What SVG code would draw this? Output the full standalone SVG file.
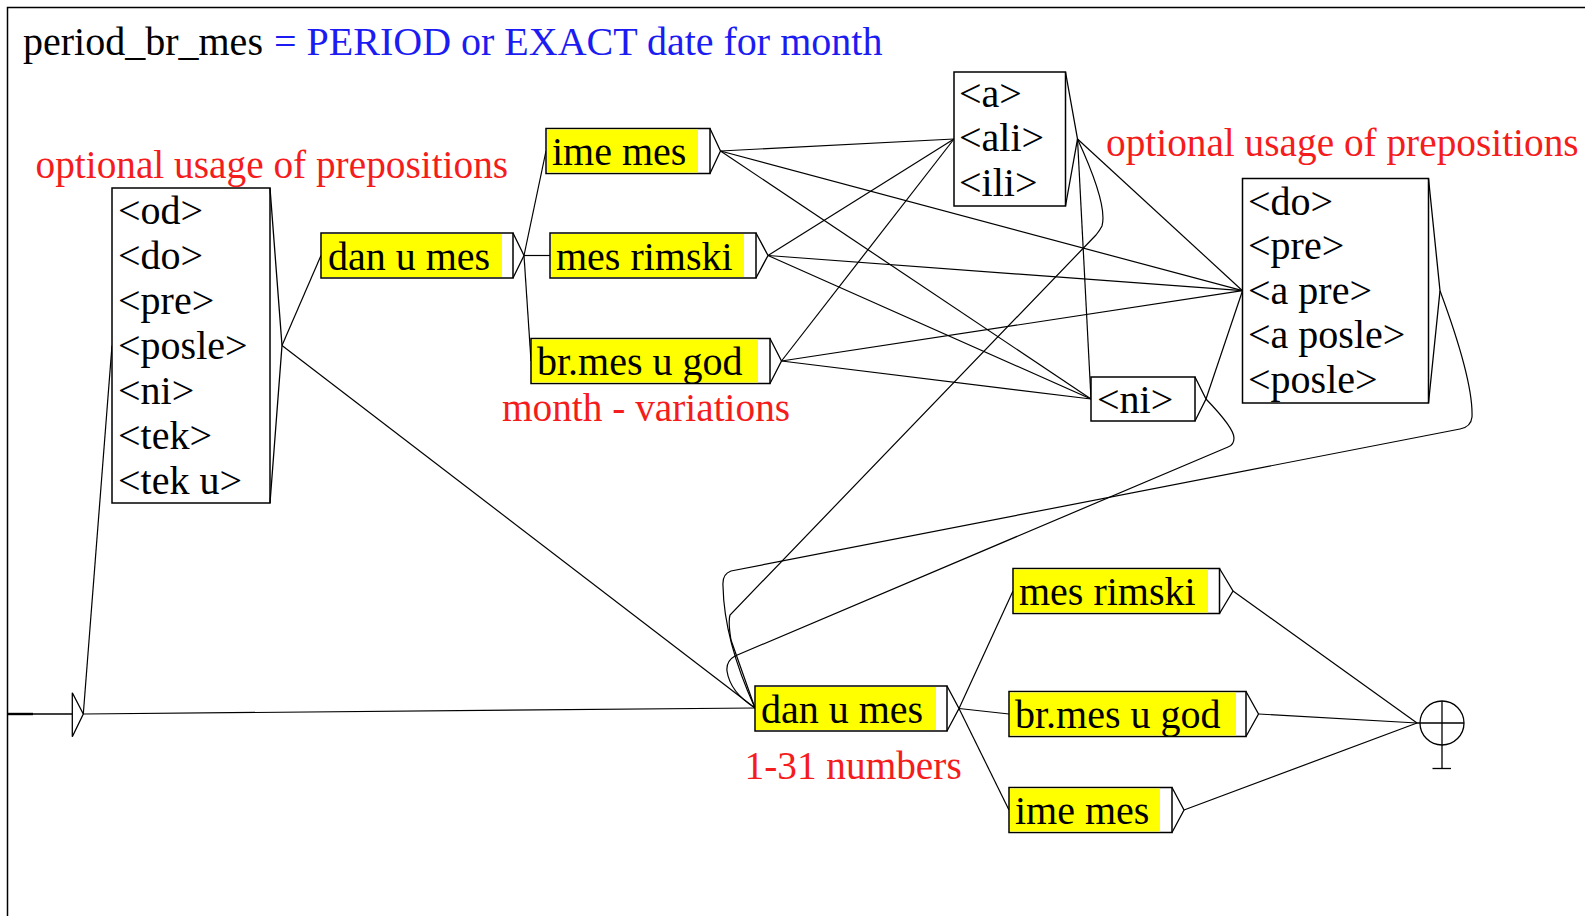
<svg xmlns="http://www.w3.org/2000/svg" width="1585" height="916" viewBox="0 0 1585 916">
<style>
text{font-family:"Liberation Serif","Times New Roman",serif;font-size:40px;fill:#000}
.c{fill:#f41c1c;font-size:39.3px}
.b{fill:#1c1cf2}
.box{fill:#fff;stroke:#000;stroke-width:1.5}
.y{fill:#ffff00}
.tri{fill:none;stroke:#000;stroke-width:1.3}
#edges path{fill:none;stroke:#000;stroke-width:1.2}
</style>
<rect width="1585" height="916" fill="#fff"/>
<rect x="7.5" y="7.5" width="1620" height="1000" fill="none" stroke="#000" stroke-width="1.5"/>
<g id="comments">
<text x="23" y="55">period_br_mes</text>
<text class="b" x="274" y="55">= PERIOD or EXACT date for month</text>
<text class="c" x="35.5" y="177.5">optional usage of prepositions</text>
<text class="c" x="1106" y="155.5">optional usage of prepositions</text>
<text class="c" x="502" y="420.5">month - variations</text>
<text class="c" x="744.5" y="778.5">1-31 numbers</text>
</g>
<g id="edges">
<path d="M83.3,714 L112,345.5"/>
<path d="M83.3,714 L755,708"/>
<path d="M282,345.5 L321,255.5"/>
<path d="M282,345.5 L755,708"/>
<path d="M524,255.5 L546,151"/>
<path d="M524,255.5 L550,255.5"/>
<path d="M524,255.5 L531,361"/>
<path d="M720.5,151 L954,139"/>
<path d="M720.5,151 L1242.5,290.7"/>
<path d="M720.5,151 L1091,399"/>
<path d="M768,255.5 L954,139"/>
<path d="M768,255.5 L1242.5,290.7"/>
<path d="M768,255.5 L1091,399"/>
<path d="M781.5,361 L954,139"/>
<path d="M781.5,361 L1242.5,290.7"/>
<path d="M781.5,361 L1091,399"/>
<path d="M1077.5,139 L1242.5,290.7"/>
<path d="M1077.5,139 L1091,399"/>
<path d="M1077.5,139 Q1108,205 1102,226 Q1100,230 1096,235 L730,615 Q728,622 731,640 L755,708"/>
<path d="M1206,399 L1242.5,290.7"/>
<path d="M1206,399 Q1234,428 1234,438 Q1234,445 1228,447 L735,656 Q726,661 727,671 Q730,692 755,708"/>
<path d="M1440,290.7 C1462,350 1473,392 1472,417 Q1471,427 1460,429 L731,571 Q722,574 723,586 Q724,640 755,708"/>
<path d="M959,708.5 L1013,591"/>
<path d="M959,708.5 L1009,714"/>
<path d="M959,708.5 L1009,810"/>
<path d="M1233,591 L1417,723"/>
<path d="M1258.5,714 L1417,723"/>
<path d="M1184,810 L1417,723"/>
</g>
<g id="initial">
<line x1="8" y1="714" x2="72.3" y2="714" stroke="#000" stroke-width="1.3"/>
<line x1="8" y1="714" x2="33" y2="714" stroke="#000" stroke-width="2.4"/>
<polygon class="tri" points="72.3,692.7 83.3,714 72.3,736.7"/>
</g>
<g id="final" fill="none" stroke="#000" stroke-width="1.3">
<circle cx="1442" cy="723" r="22"/>
<line x1="1417" y1="723" x2="1464" y2="723"/>
<line x1="1442" y1="701" x2="1442" y2="768.5"/>
<line x1="1432.5" y1="768.5" x2="1451" y2="768.5"/>
</g>
<g id="prep-left">
<rect class="box" x="112" y="188" width="158" height="315"/>
<polyline class="tri" points="270,188 282,345.5 270,503"/>
<text x="118" y="223.5">&lt;od&gt;</text>
<text x="118" y="268.5">&lt;do&gt;</text>
<text x="118" y="313.5">&lt;pre&gt;</text>
<text x="118" y="358.5">&lt;posle&gt;</text>
<text x="118" y="403.5">&lt;ni&gt;</text>
<text x="118" y="448.5">&lt;tek&gt;</text>
<text x="118" y="493.5">&lt;tek u&gt;</text>
</g>
<g id="dan-u-mes-top">
<rect class="box" x="321" y="233" width="192" height="45"/>
<rect class="y" x="322" y="234" width="180" height="43"/>
<polyline class="tri" points="513,233 524,255.5 513,278"/>
<text x="328" y="269.5">dan u mes</text>
</g>
<g id="ime-mes-top">
<rect class="box" x="546" y="128.5" width="164" height="45"/>
<rect class="y" x="547" y="129.5" width="151" height="43"/>
<polyline class="tri" points="710,128.5 720.5,151 710,173.5"/>
<text x="552" y="164.5">ime mes</text>
</g>
<g id="mes-rimski-top">
<rect class="box" x="550" y="233" width="206" height="45"/>
<rect class="y" x="551" y="234" width="193" height="43"/>
<polyline class="tri" points="756,233 768,255.5 756,278"/>
<text x="556" y="269.5">mes rimski</text>
</g>
<g id="br-mes-top">
<rect class="box" x="531" y="338.5" width="239" height="45"/>
<rect class="y" x="532" y="339.5" width="226" height="43"/>
<polyline class="tri" points="770,338.5 781.5,361 770,383.5"/>
<text x="537" y="374.5">br.mes u god</text>
</g>
<g id="conj">
<rect class="box" x="954" y="72" width="111.5" height="134"/>
<polyline class="tri" points="1065.5,72 1077.5,139 1065.5,206"/>
<text x="959" y="106.5">&lt;a&gt;</text>
<text x="959" y="151">&lt;ali&gt;</text>
<text x="959" y="195.5">&lt;ili&gt;</text>
</g>
<g id="ni">
<rect class="box" x="1091" y="377" width="104" height="44"/>
<polyline class="tri" points="1195,377 1206,399 1195,421"/>
<text x="1097" y="412.5">&lt;ni&gt;</text>
</g>
<g id="prep-right">
<rect class="box" x="1242.5" y="178.5" width="186" height="224.5"/>
<polyline class="tri" points="1428.5,178.5 1440,290.7 1428.5,403"/>
<text x="1248" y="214.5">&lt;do&gt;</text>
<text x="1248" y="259.1">&lt;pre&gt;</text>
<text x="1248" y="303.7">&lt;a pre&gt;</text>
<text x="1248" y="348.3">&lt;a posle&gt;</text>
<text x="1248" y="392.9">&lt;posle&gt;</text>
</g>
<g id="dan-u-mes-bottom">
<rect class="box" x="755" y="686" width="192" height="45"/>
<rect class="y" x="756" y="687" width="180" height="43"/>
<polyline class="tri" points="947,686 959,708.5 947,731"/>
<text x="761" y="722.5">dan u mes</text>
</g>
<g id="mes-rimski-bottom">
<rect class="box" x="1013" y="568.5" width="206.5" height="45"/>
<rect class="y" x="1014" y="569.5" width="194" height="43"/>
<polyline class="tri" points="1219.5,568.5 1233,591 1219.5,613.5"/>
<text x="1019" y="604.5">mes rimski</text>
</g>
<g id="br-mes-bottom">
<rect class="box" x="1009" y="691.5" width="237" height="45"/>
<rect class="y" x="1010" y="692.5" width="226" height="43"/>
<polyline class="tri" points="1246,691.5 1258.5,714 1246,736.5"/>
<text x="1015" y="727.5">br.mes u god</text>
</g>
<g id="ime-mes-bottom">
<rect class="box" x="1009" y="787.5" width="163" height="45"/>
<rect class="y" x="1010" y="788.5" width="150" height="43"/>
<polyline class="tri" points="1172,787.5 1184,810 1172,832.5"/>
<text x="1015" y="823.5">ime mes</text>
</g>
</svg>
